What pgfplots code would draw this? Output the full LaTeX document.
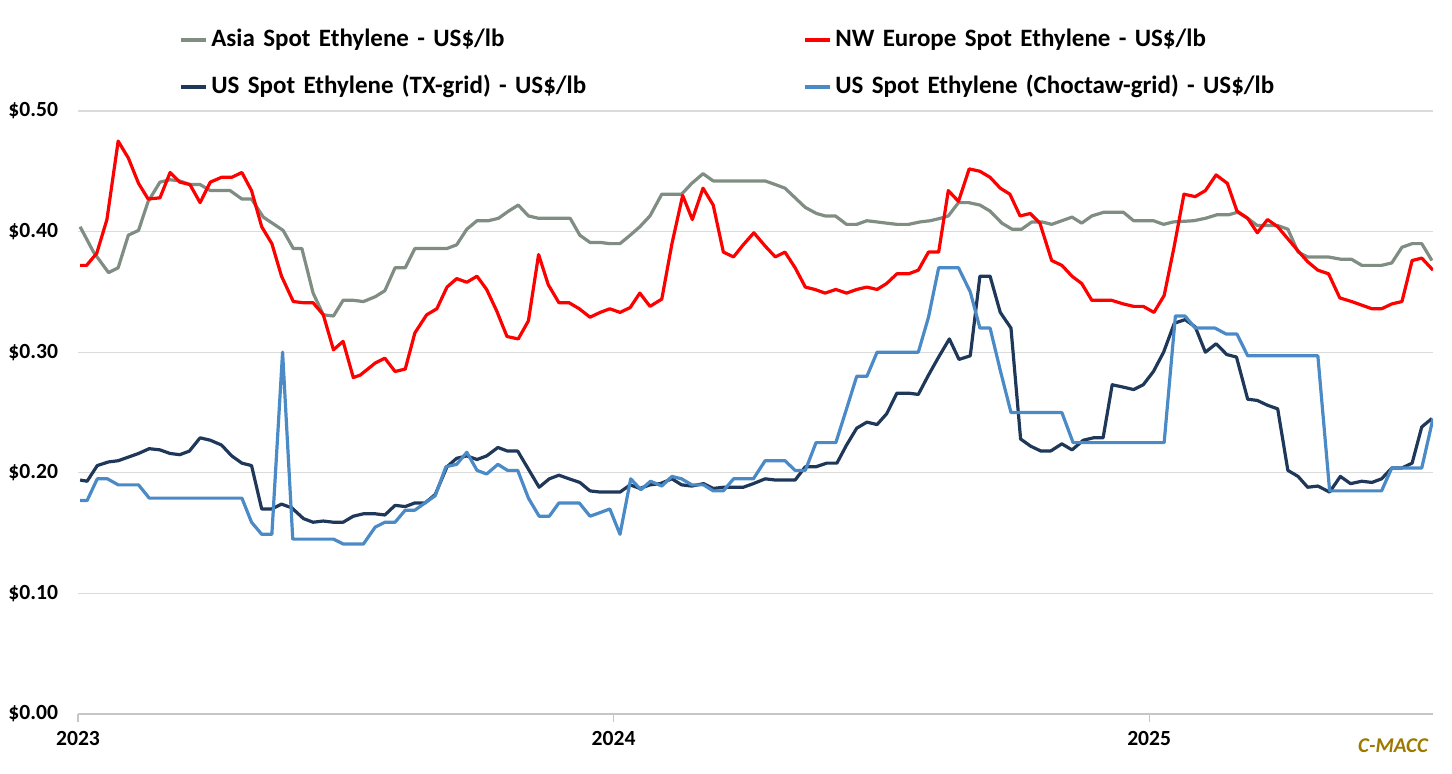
\documentclass[border=0pt]{standalone}
\usepackage{fontspec}
\setmainfont{Carlito}
\usepackage{pgfplots}
\pgfplotsset{compat=1.18}
\definecolor{asiagray}{RGB}{127,141,131}
\definecolor{eured}{RGB}{255,0,0}
\definecolor{txnavy}{RGB}{31,56,90}
\definecolor{choctaw}{RGB}{74,138,198}
\definecolor{cmacc}{RGB}{156,122,0}

\begin{document}
\begin{tikzpicture}
\useasboundingbox (-39pt,-30pt) rectangle (687pt,357pt);
\begin{axis}[
  scale only axis, width=677.5pt, height=301.5pt,
  xmin=2023, xmax=2025.53, ymin=0, ymax=0.5,
  clip mode=individual,
  axis x line*=bottom, axis y line*=left,
  axis line style={-},
  y axis line style={draw=none},
  x axis line style={draw=gray!45, line width=0.8pt},
  ytick={0,0.1,0.2,0.3,0.4,0.5},
  yticklabels={\$0.00,\$0.10,\$0.20,\$0.30,\$0.40,\$0.50},
  ytick style={draw=none},
  ymajorgrids, grid style={draw=gray!28, line width=0.6pt},
  xtick={2023,2024,2025},
  xticklabels={2023,2024,2025},
  xtick style={draw=gray!45, line width=0.6pt},
  tick align=outside, major tick length=4pt,
  tick label style={font=\bfseries\fontsize{10.8}{12}\selectfont, text=black},
  yticklabel style={xshift=-2.5pt},
  xticklabel style={yshift=-1pt},
  every axis plot/.append style={line width=1.6pt, line join=round},
  legend image code/.code={\draw[#1, line width=2pt] (0pt,0pt) -- (12.5pt,0pt);},
  legend columns=2, legend cell align=left,
  legend style={at={(axis description cs:0.0745,1.136)}, anchor=north west,
    draw=none, fill=none, inner sep=0pt,
    font=\bfseries\fontsize{12.5}{14}\selectfont,
    nodes={text width=296pt, align=left, text height=8.5pt, text depth=2.5pt, inner sep=0pt},
    row sep=12.5pt,
    /tikz/every odd column/.append style={column sep=1.5pt}},
]
% Asia
\addplot[asiagray] table {
2023.004 0.404
2023.029 0.383
2023.057 0.366
2023.075 0.370
2023.094 0.397
2023.113 0.401
2023.131 0.425
2023.153 0.441
2023.172 0.443
2023.190 0.442
2023.209 0.439
2023.228 0.439
2023.247 0.434
2023.284 0.434
2023.306 0.427
2023.324 0.427
2023.346 0.412
2023.383 0.401
2023.402 0.386
2023.418 0.386
2023.439 0.349
2023.458 0.331
2023.477 0.330
2023.495 0.343
2023.514 0.343
2023.533 0.342
2023.555 0.346
2023.573 0.351
2023.592 0.370
2023.611 0.370
2023.629 0.386
2023.689 0.386
2023.707 0.389
2023.726 0.402
2023.745 0.409
2023.766 0.409
2023.785 0.411
2023.804 0.417
2023.822 0.422
2023.841 0.413
2023.860 0.411
2023.919 0.411
2023.937 0.397
2023.956 0.391
2023.975 0.391
2023.993 0.390
2024.012 0.390
2024.031 0.397
2024.049 0.404
2024.068 0.413
2024.090 0.431
2024.127 0.431
2024.146 0.440
2024.167 0.448
2024.186 0.442
2024.283 0.442
2024.302 0.439
2024.320 0.436
2024.339 0.428
2024.358 0.420
2024.379 0.415
2024.395 0.413
2024.414 0.413
2024.435 0.406
2024.454 0.406
2024.473 0.409
2024.492 0.408
2024.510 0.407
2024.529 0.406
2024.551 0.406
2024.572 0.408
2024.591 0.409
2024.610 0.411
2024.625 0.413
2024.644 0.424
2024.663 0.424
2024.684 0.422
2024.703 0.417
2024.725 0.407
2024.744 0.402
2024.762 0.402
2024.781 0.408
2024.800 0.408
2024.818 0.406
2024.837 0.409
2024.856 0.412
2024.874 0.407
2024.893 0.413
2024.915 0.416
2024.952 0.416
2024.971 0.409
2025.008 0.409
2025.027 0.406
2025.045 0.408
2025.083 0.409
2025.105 0.411
2025.127 0.414
2025.149 0.414
2025.165 0.416
2025.184 0.411
2025.202 0.405
2025.240 0.405
2025.259 0.402
2025.278 0.383
2025.296 0.379
2025.334 0.379
2025.359 0.377
2025.378 0.377
2025.397 0.372
2025.434 0.372
2025.453 0.374
2025.472 0.387
2025.491 0.390
2025.509 0.390
2025.528 0.376
};
\addlegendentry{Asia Spot Ethylene - US\$/lb}
% NW Europe
\addplot[eured] table {
2023.004 0.372
2023.016 0.372
2023.035 0.382
2023.054 0.410
2023.075 0.475
2023.094 0.461
2023.113 0.440
2023.131 0.427
2023.153 0.428
2023.172 0.449
2023.190 0.441
2023.209 0.439
2023.228 0.424
2023.247 0.441
2023.268 0.445
2023.287 0.445
2023.306 0.449
2023.324 0.434
2023.343 0.404
2023.362 0.390
2023.380 0.363
2023.402 0.342
2023.421 0.341
2023.439 0.341
2023.458 0.331
2023.477 0.302
2023.495 0.309
2023.514 0.279
2023.527 0.281
2023.555 0.291
2023.573 0.295
2023.592 0.284
2023.611 0.286
2023.629 0.316
2023.651 0.331
2023.670 0.336
2023.689 0.354
2023.707 0.361
2023.726 0.358
2023.745 0.363
2023.763 0.352
2023.782 0.334
2023.801 0.313
2023.822 0.311
2023.841 0.326
2023.860 0.381
2023.878 0.356
2023.898 0.341
2023.917 0.341
2023.936 0.336
2023.956 0.329
2023.975 0.333
2023.993 0.336
2024.012 0.333
2024.031 0.337
2024.049 0.349
2024.068 0.338
2024.090 0.344
2024.109 0.390
2024.129 0.430
2024.147 0.410
2024.167 0.436
2024.186 0.422
2024.205 0.383
2024.224 0.379
2024.242 0.389
2024.262 0.399
2024.283 0.388
2024.302 0.379
2024.320 0.383
2024.339 0.370
2024.358 0.354
2024.376 0.352
2024.395 0.349
2024.415 0.352
2024.435 0.349
2024.454 0.352
2024.473 0.354
2024.492 0.352
2024.510 0.357
2024.529 0.365
2024.551 0.365
2024.569 0.368
2024.588 0.383
2024.607 0.383
2024.625 0.434
2024.644 0.425
2024.664 0.452
2024.684 0.450
2024.703 0.445
2024.722 0.436
2024.740 0.431
2024.759 0.413
2024.778 0.415
2024.796 0.407
2024.818 0.376
2024.837 0.372
2024.856 0.363
2024.874 0.357
2024.893 0.343
2024.930 0.343
2024.952 0.340
2024.971 0.338
2024.989 0.338
2025.009 0.333
2025.028 0.347
2025.046 0.386
2025.065 0.431
2025.086 0.429
2025.105 0.434
2025.125 0.447
2025.146 0.440
2025.164 0.417
2025.184 0.411
2025.202 0.399
2025.221 0.410
2025.240 0.404
2025.259 0.394
2025.278 0.384
2025.296 0.375
2025.315 0.368
2025.335 0.365
2025.356 0.345
2025.378 0.342
2025.397 0.339
2025.416 0.336
2025.434 0.336
2025.453 0.340
2025.472 0.342
2025.491 0.376
2025.509 0.378
2025.530 0.368
};
\addlegendentry{NW Europe Spot Ethylene - US\$/lb}
% US TX-grid
\addplot[txnavy] table {
2023.004 0.194
2023.017 0.193
2023.036 0.206
2023.057 0.209
2023.075 0.210
2023.094 0.213
2023.113 0.216
2023.133 0.220
2023.153 0.219
2023.172 0.216
2023.190 0.215
2023.208 0.218
2023.228 0.229
2023.247 0.227
2023.268 0.223
2023.287 0.214
2023.306 0.208
2023.324 0.206
2023.343 0.170
2023.362 0.170
2023.380 0.174
2023.399 0.171
2023.421 0.162
2023.439 0.159
2023.458 0.160
2023.477 0.159
2023.495 0.159
2023.514 0.164
2023.533 0.166
2023.555 0.166
2023.573 0.165
2023.592 0.173
2023.611 0.172
2023.629 0.175
2023.648 0.175
2023.667 0.182
2023.689 0.205
2023.707 0.212
2023.726 0.214
2023.745 0.211
2023.763 0.214
2023.784 0.221
2023.802 0.218
2023.821 0.218
2023.841 0.203
2023.861 0.188
2023.880 0.195
2023.898 0.198
2023.917 0.195
2023.937 0.192
2023.956 0.185
2023.975 0.184
2023.993 0.184
2024.012 0.184
2024.031 0.190
2024.049 0.187
2024.068 0.190
2024.087 0.191
2024.109 0.195
2024.127 0.190
2024.146 0.189
2024.168 0.191
2024.186 0.187
2024.205 0.188
2024.224 0.188
2024.242 0.188
2024.261 0.191
2024.283 0.195
2024.302 0.194
2024.320 0.194
2024.339 0.194
2024.358 0.205
2024.378 0.205
2024.398 0.208
2024.417 0.208
2024.435 0.223
2024.454 0.237
2024.473 0.242
2024.492 0.240
2024.510 0.249
2024.529 0.266
2024.551 0.266
2024.569 0.265
2024.588 0.281
2024.607 0.296
2024.627 0.311
2024.645 0.294
2024.666 0.297
2024.684 0.363
2024.703 0.363
2024.722 0.333
2024.742 0.320
2024.760 0.228
2024.779 0.222
2024.798 0.218
2024.816 0.218
2024.837 0.224
2024.856 0.219
2024.877 0.227
2024.896 0.229
2024.914 0.229
2024.931 0.273
2024.952 0.271
2024.971 0.269
2024.989 0.273
2025.008 0.284
2025.027 0.300
2025.047 0.324
2025.067 0.327
2025.086 0.321
2025.105 0.300
2025.125 0.307
2025.145 0.298
2025.163 0.296
2025.184 0.261
2025.202 0.260
2025.221 0.256
2025.240 0.253
2025.259 0.202
2025.278 0.197
2025.296 0.188
2025.315 0.189
2025.337 0.184
2025.357 0.197
2025.376 0.191
2025.397 0.193
2025.416 0.192
2025.434 0.195
2025.453 0.204
2025.472 0.204
2025.491 0.208
2025.509 0.238
2025.528 0.245
};
\addlegendentry{US Spot Ethylene (TX-grid) - US\$/lb}
% US Choctaw-grid
\addplot[choctaw] table {
2023.004 0.177
2023.017 0.177
2023.036 0.195
2023.055 0.195
2023.075 0.190
2023.113 0.190
2023.133 0.179
2023.306 0.179
2023.324 0.159
2023.343 0.149
2023.362 0.149
2023.382 0.300
2023.401 0.145
2023.477 0.145
2023.495 0.141
2023.533 0.141
2023.555 0.155
2023.573 0.159
2023.592 0.159
2023.611 0.169
2023.629 0.169
2023.648 0.175
2023.667 0.181
2023.687 0.205
2023.707 0.207
2023.726 0.217
2023.745 0.202
2023.763 0.199
2023.784 0.207
2023.802 0.202
2023.821 0.202
2023.841 0.179
2023.861 0.164
2023.880 0.164
2023.898 0.175
2023.936 0.175
2023.956 0.164
2023.975 0.167
2023.993 0.170
2024.012 0.149
2024.032 0.195
2024.051 0.186
2024.069 0.193
2024.090 0.189
2024.109 0.197
2024.127 0.195
2024.146 0.190
2024.168 0.190
2024.186 0.185
2024.205 0.185
2024.224 0.195
2024.261 0.195
2024.283 0.210
2024.320 0.210
2024.339 0.202
2024.358 0.202
2024.378 0.225
2024.415 0.225
2024.435 0.253
2024.454 0.280
2024.473 0.280
2024.492 0.300
2024.569 0.300
2024.588 0.329
2024.607 0.370
2024.644 0.370
2024.666 0.350
2024.684 0.320
2024.703 0.320
2024.722 0.285
2024.742 0.250
2024.837 0.250
2024.858 0.225
2025.028 0.225
2025.049 0.330
2025.067 0.330
2025.086 0.320
2025.123 0.320
2025.144 0.315
2025.164 0.315
2025.184 0.297
2025.315 0.297
2025.337 0.185
2025.434 0.185
2025.453 0.204
2025.509 0.204
2025.530 0.245
};
\addlegendentry{US Spot Ethylene (Choctaw-grid) - US\$/lb}
\node[anchor=east, font=\bfseries\itshape\fontsize{10.5}{12}\selectfont, text=cmacc, yshift=-16pt, xshift=1pt] at (rel axis cs:1,0) {C-MACC};
\end{axis}
\end{tikzpicture}
\end{document}
